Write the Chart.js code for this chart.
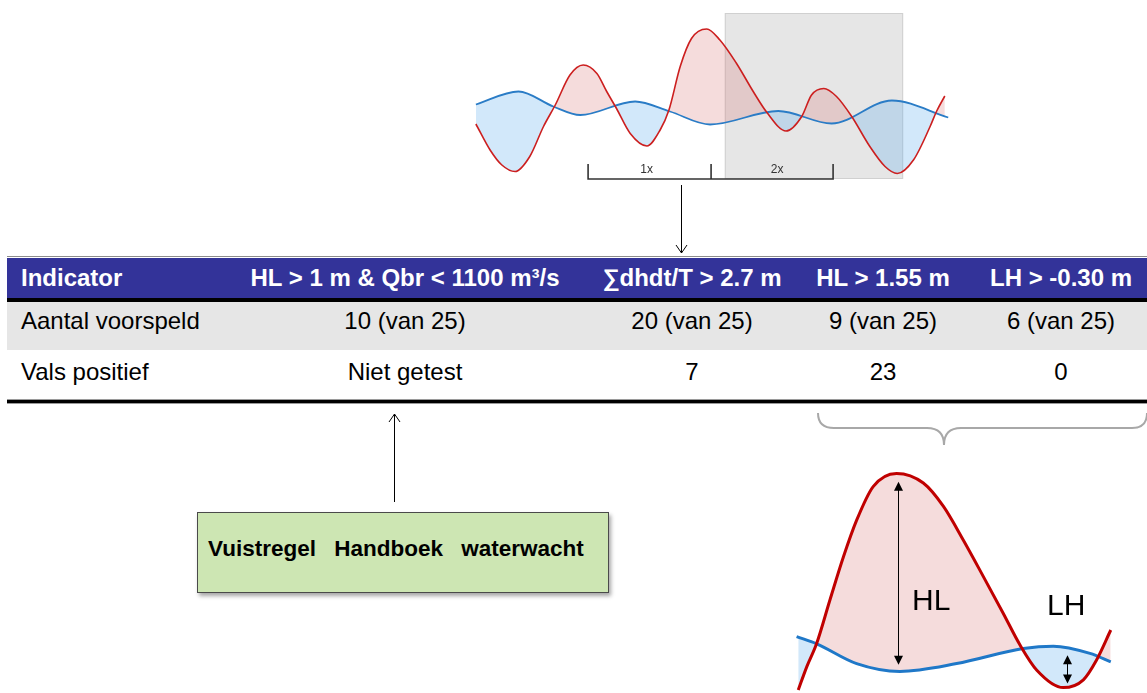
<!DOCTYPE html>
<html>
<head>
<meta charset="utf-8">
<script src="https://cdn.jsdelivr.net/npm/chart.js@4.4.1/dist/chart.umd.min.js"></script>
<style>
  body { margin: 0; width: 1147px; height: 693px; position: relative; overflow: hidden; background: #fff;
         font-family: Arial, "Liberation Sans", sans-serif; color: #000; }
  #top-chart { position: absolute; left: 470px; top: 0; }
  #zoom-chart { position: absolute; left: 790px; top: 450px; }
  .band { position: absolute; left: 7px; right: 0; }
  .cell { position: absolute; white-space: nowrap; line-height: 30px; }
  .mid { transform: translateX(-50%); }
  .head { color: #fff; font-weight: bold; font-size: 24px; }
  .body { font-size: 24px; }
  #rule-box { position: absolute; left: 197px; top: 512px; width: 400px; height: 79px; background: #cde6b3;
              border: 1px solid #4a4a4a; box-shadow: 2px 3px 4px rgba(0,0,0,0.35);
              font-weight: bold; font-size: 22.5px; word-spacing: 12px; line-height: 72px; padding-left: 10px;
              box-sizing: content-box; white-space: nowrap; }
  #overlay { position: absolute; left: 0; top: 0; }
</style>
</head>
<body>
<canvas id="top-chart" width="490" height="190"></canvas>

<div class="band" style="top:256px;height:1px;background:#8c8c8c"></div>
<div class="band" style="top:258px;height:40px;background:#333399"></div>
<div class="band" style="top:298px;height:4px;background:#000"></div>
<div class="band" style="top:302px;height:48px;background:#e6e6e6"></div>
<div class="band" style="top:399px;height:1px;background:#9a9a9a"></div>
<div class="band" style="top:400px;height:3px;background:#000"></div>
<div class="band" style="top:403px;height:1px;background:#9a9a9a"></div>
<div id="table-text"></div>

<div id="rule-box">Vuistregel Handboek waterwacht</div>

<canvas id="zoom-chart" width="330" height="243"></canvas>

<svg id="overlay" width="1147" height="693">
  <g stroke="#000" stroke-width="1" fill="none">
    <line x1="681.5" y1="185" x2="681.5" y2="253"/>
    <polyline points="676,245 681.5,253 687,245"/>
    <line x1="394.5" y1="414" x2="394.5" y2="502"/>
    <polyline points="389,422 394.5,414 400,422"/>
  </g>
  <path d="M818,413 Q818,428 834,428 L927,428 Q944,428 944,445 Q944,428 961,428 L1132,428 Q1147,428 1147,413"
        stroke="#a8a8a8" stroke-width="2" fill="none"/>
  <text x="912" y="610" font-size="30" font-family="Arial, Liberation Sans, sans-serif">HL</text>
  <text x="1047" y="615" font-size="30" font-family="Arial, Liberation Sans, sans-serif">LH</text>
</svg>

<script>
// ---- table ----
const columns = ['Indicator', 'HL > 1 m & Qbr < 1100 m³/s', '∑dhdt/T > 2.7 m', 'HL > 1.55 m', 'LH > -0.30 m'];
const rowLabels = ['Aantal voorspeld', 'Vals positief'];
const predicted = ['10 (van 25)', '20 (van 25)', '9 (van 25)', '6 (van 25)'];
const falsePositive = ['Niet getest', '7', '23', '0'];

// ---- overview wave (time 0-100, level in m) ----
const highT = [1.2, 4.1, 6.5, 9.2, 12.2, 15.0, 17.4, 20.4, 23.1, 25.9, 27.9, 29.9, 32.7, 36.1, 38.8, 40.6,
               42.9, 45.2, 48.3, 51.0, 54.4, 57.8, 60.6, 64.5, 67.7, 69.7, 72.2, 74.8, 77.9, 81.6, 84.7,
               87.2, 90.5, 93.9, 95.2, 96.9];
const highLevel = [-0.58, -1.10, -1.40, -1.53, -1.23, -0.63, -0.20, 0.40, 0.60, 0.43, 0.07, -0.27, -0.77, -1.02, -0.70, -0.30,
                   0.57, 1.13, 1.32, 1.10, 0.63, 0.07, -0.35, -0.72, -0.43, 0.00, 0.13, -0.03, -0.43, -1.03, -1.43,
                   -1.57, -1.30, -0.63, -0.33, -0.02];
const lowT     = [1.2, 9.9, 17.0, 22.5, 33.7, 40.8, 49.0, 62.9, 73.8, 86.1, 97.6];
const lowLevel = [-0.19, 0.07, -0.23, -0.40, -0.13, -0.33, -0.59, -0.32, -0.57, -0.11, -0.45];

// ---- close-up wave ----
const zoomHighT = [2.5, 5.1, 8.1, 12.1, 16.2, 20.2, 25.2, 32.3, 40.4, 46.5, 52.5, 58.6, 64.6, 69.7, 74.8,
                   82.8, 88.9, 92.9, 97.2];
const zoomHighLevel = [-1.50, -1.11, -0.72, 0.00, 0.72, 1.33, 1.89, 2.11, 1.95, 1.56, 1.00, 0.39, -0.22, -0.75, -1.17,
                       -1.46, -1.33, -1.00, -0.50];
const zoomLowT     = [2.0, 8.1, 20.2, 33.3, 50.5, 70.7, 79.8, 90.9, 97.2];
const zoomLowLevel = [-0.61, -0.73, -1.06, -1.19, -1.06, -0.81, -0.77, -0.89, -1.03];

// annotations
const windowFrom = 52.0, windowTo = 88.4;      // grey forecast window
const bracketStart = 24.1, bracketMid = 49.2, bracketEnd = 74.1;
const hlAt = 32.7, lhAt = 84.0;

const tableText = document.getElementById('table-text');
const colCenters = [405, 692, 883, 1061];
function addCell(text, cls, x, top, centered) {
    const d = document.createElement('div');
    d.className = 'cell ' + cls + (centered ? ' mid' : '');
    d.style.left = x + 'px';
    d.style.top = top + 'px';
    d.textContent = text;
    tableText.appendChild(d);
}
addCell(columns[0], 'head', 21, 263, false);
columns.slice(1).forEach((c, i) => addCell(c, 'head', colCenters[i], 263, true));
addCell(rowLabels[0], 'body', 21, 306, false);
predicted.forEach((v, i) => addCell(v, 'body', colCenters[i], 306, true));
addCell(rowLabels[1], 'body', 21, 357, false);
falsePositive.forEach((v, i) => addCell(v, 'body', colCenters[i], 357, true));

const zip = (xs, ys) => xs.map((x, i) => ({ x, y: ys[i] }));
const pinkFill = 'rgba(215,110,110,0.24)';
const blueFill = 'rgba(90,170,235,0.27)';

function waveOptions(yMin, yMax) {
    return {
        responsive: false,
        animation: false,
        layout: { padding: 0 },
        elements: { point: { radius: 0 } },
        scales: {
            x: { type: 'linear', min: 0, max: 100, display: false },
            y: { min: yMin, max: yMax, display: false },
        },
        plugins: {
            legend: { display: false },
            tooltip: { enabled: false },
            filler: { drawTime: 'beforeDatasetsDraw' },
        },
    };
}

function drawArrowHead(ctx, x, y, dir) {
    ctx.beginPath();
    ctx.moveTo(x, y);
    ctx.lineTo(x - 4.5, y + dir * 9);
    ctx.lineTo(x + 4.5, y + dir * 9);
    ctx.closePath();
    ctx.fill();
}

const topExtras = {
    id: 'topExtras',
    beforeDraw(chart) {
        const { ctx, scales: { x, y } } = chart;
        const x0 = x.getPixelForValue(windowFrom), x1 = x.getPixelForValue(windowTo);
        const y0 = y.getPixelForValue(1.64), y1 = y.getPixelForValue(-1.68);
        ctx.save();
        ctx.fillStyle = '#e6e6e6';
        ctx.fillRect(x0, y0, x1 - x0, y1 - y0);
        ctx.strokeStyle = '#d0d0d0';
        ctx.strokeRect(x0 + 0.5, y0 + 0.5, x1 - x0 - 1, y1 - y0 - 1);
        ctx.restore();
    },
    afterDraw(chart) {
        const { ctx, scales: { x, y } } = chart;
        const base = y.getPixelForValue(-1.68), tick = y.getPixelForValue(-1.38);
        const a = x.getPixelForValue(bracketStart), m = x.getPixelForValue(bracketMid), b = x.getPixelForValue(bracketEnd);
        ctx.save();
        ctx.strokeStyle = '#333';
        ctx.lineWidth = 1.6;
        ctx.beginPath();
        ctx.moveTo(a, tick); ctx.lineTo(a, base); ctx.lineTo(b, base); ctx.lineTo(b, tick);
        ctx.moveTo(m, tick); ctx.lineTo(m, base);
        ctx.stroke();
        ctx.fillStyle = '#333';
        ctx.font = '12px Arial';
        ctx.textAlign = 'center';
        ctx.textBaseline = 'alphabetic';
        ctx.fillText('1x', (a + m) / 2 - 3, y.getPixelForValue(-1.56));
        ctx.fillText('2x', (m + b) / 2 + 5, y.getPixelForValue(-1.56));
        ctx.restore();
    },
};

new Chart(document.getElementById('top-chart'), {
    type: 'line',
    data: {
        datasets: [
            { data: zip(highT, highLevel), borderColor: '#cc1f1f', borderWidth: 1.6, cubicInterpolationMode: 'monotone',
              fill: { target: 1, above: pinkFill, below: blueFill } },
            { data: zip(lowT, lowLevel), borderColor: '#2a7cc6', borderWidth: 1.8, cubicInterpolationMode: 'monotone', fill: false },
        ],
    },
    options: waveOptions(-1.9, 1.9),
    plugins: [topExtras],
});

const zoomExtras = {
    id: 'zoomExtras',
    afterDraw(chart) {
        const { ctx, scales: { x, y } } = chart;
        ctx.save();
        ctx.strokeStyle = '#000';
        ctx.fillStyle = '#000';
        ctx.lineWidth = 1;
        [[hlAt, 1.97, -1.08], [lhAt, -0.92, -1.39]].forEach(([t, hi, lo]) => {
            const px = Math.round(x.getPixelForValue(t)) + 0.5;
            const top = y.getPixelForValue(hi), bottom = y.getPixelForValue(lo);
            ctx.beginPath();
            ctx.moveTo(px, top + 4); ctx.lineTo(px, bottom - 4);
            ctx.stroke();
            drawArrowHead(ctx, px, top, 1);
            drawArrowHead(ctx, px, bottom, -1);
        });
        ctx.restore();
    },
};

new Chart(document.getElementById('zoom-chart'), {
    type: 'line',
    data: {
        datasets: [
            { data: zip(zoomHighT, zoomHighLevel), borderColor: '#c00000', borderWidth: 3, cubicInterpolationMode: 'monotone',
              fill: { target: 1, above: pinkFill, below: blueFill } },
            { data: zip(zoomLowT, zoomLowLevel), borderColor: '#1f78c8', borderWidth: 3, cubicInterpolationMode: 'monotone', fill: false },
        ],
    },
    options: waveOptions(-1.55, 2.5),
    plugins: [zoomExtras],
});
</script>
</body>
</html>
